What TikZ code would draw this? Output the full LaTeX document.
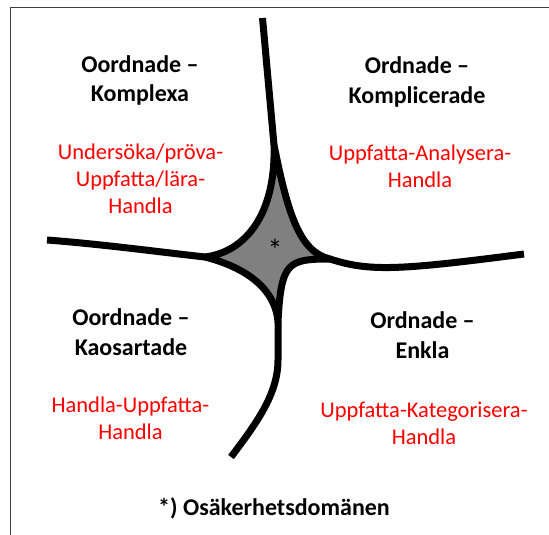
\documentclass[tikz,border=0pt]{standalone}
\usepackage{fontspec}
\setmainfont{Carlito}
\usepackage{tikz}

\begin{document}
\begin{tikzpicture}[x=1pt,y=-1pt,
  head/.style={font=\bfseries\fontsize{24}{29.5}\selectfont, align=center, anchor=base, inner sep=0pt},
  act/.style={font=\fontsize{22.5}{26.7}\selectfont, text=red, align=center, anchor=base, inner sep=0pt},
  arm/.style={line width=7pt, line cap=butt, line join=round}]
\useasboundingbox (0,0) rectangle (549,535);
% Frame
\draw[black!75, line width=0.8pt] (10.5,535) -- (10.5,7.7) -- (549,7.7);
% Cusps of the middle field
\coordinate (T) at (274,145);
\coordinate (L) at (205,257);
\coordinate (B) at (278,322);
\coordinate (R) at (330,259);
% Middle field
\filldraw[fill=gray, arm] (T) .. controls (276,215) and (245,252) .. (L)
  .. controls (240,266) and (275,285) .. (B)
  .. controls (281,262) and (288,259) .. (R)
  .. controls (300,252) and (288,215) .. (T) -- cycle;
% Arms
\draw[arm] (T) -- (262.5,18);
\draw[arm] (L) .. controls (160,252) and (100,244) .. (47,240);
\draw[arm] (R) .. controls (370,272) and (400,270) .. (524,254);
\draw[arm] (B) -- (278,360) .. controls (278,395) and (255,425) .. (231,457);
\node[font=\fontsize{30}{30}\selectfont, inner sep=0pt] (star) at (275,250) {*};
% Quadrants (base = last line)
\node[head] (kx) at (140,102) {Oordnade –\\Komplexa};
\node[act] (kxa) at (140.5,213) {Undersöka/pröva-\\Uppfatta/lära-\\Handla};
\node[head] (kp) at (417,103) {Ordnade –\\Komplicerade};
\node[act] (kpa) at (420,187) {Uppfatta-Analysera-\\Handla};
\node[head] (ka) at (131,355) {Oordnade –\\Kaosartade};
\node[act] (kaa) at (130.5,439) {Handla-Uppfatta-\\Handla};
\node[head] (en) at (422.5,358) {Ordnade –\\Enkla};
\node[act] (ena) at (424,444) {Uppfatta-Kategorisera-\\Handla};
\node[head] (note) at (274,515) {*) Osäkerhetsdomänen};
\end{tikzpicture}
\end{document}
